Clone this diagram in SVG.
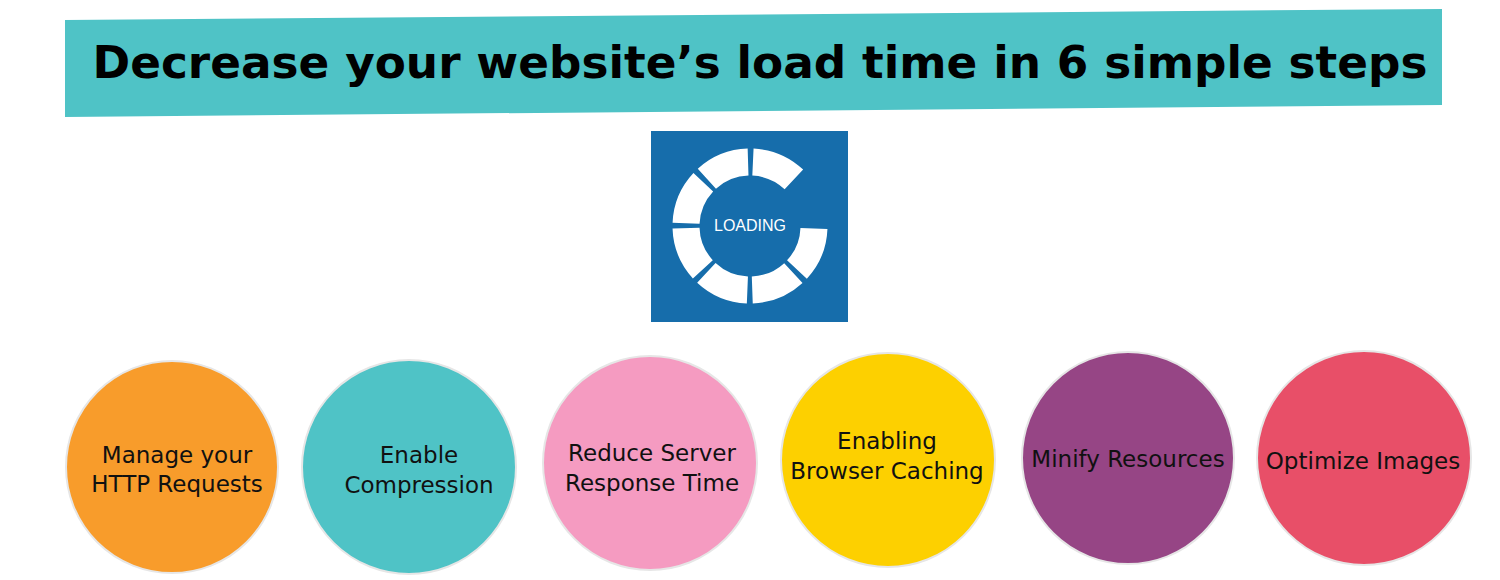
<svg xmlns="http://www.w3.org/2000/svg" width="1500" height="580" viewBox="0 0 1500 580">
<style>
.t{font-family:"DejaVu Sans",sans-serif;font-size:23px;fill:#111;text-anchor:middle}
.c{stroke:#e6e6e6;stroke-width:2}
</style>
<rect width="1500" height="580" fill="#fff"/>
<g id="title">
<polygon points="65,20 1442,9 1442,105 65,117" fill="#4fc3c6"/>
<text x="760" y="78" font-family="DejaVu Sans,sans-serif" font-weight="bold" font-size="45" fill="#000" text-anchor="middle" textLength="1335" lengthAdjust="spacingAndGlyphs">Decrease your website’s load time in 6 simple steps</text>
</g>
<g id="loading-icon">
<rect x="651" y="131" width="197" height="191" fill="#166dab"/>
<circle cx="750" cy="226" r="64" fill="none" stroke="#fff" stroke-width="27" stroke-dasharray="45.27 5 45.27 5 45.27 5 45.27 5 45.27 5 45.27 5 45.27 55.27" stroke-dashoffset="-2.5"/>
<text x="750" y="231" font-family="Liberation Sans,sans-serif" font-size="16" fill="#fff" text-anchor="middle">LOADING</text>
</g>
<g id="step1"><circle class="c" cx="172" cy="467" r="106" fill="#f89c2b"/><text class="t" x="177" y="463">Manage your</text><text class="t" x="177" y="492">HTTP Requests</text></g>
<g id="step2"><circle class="c" cx="409" cy="467" r="107" fill="#4fc3c6"/><text class="t" x="419" y="463">Enable</text><text class="t" x="419" y="493">Compression</text></g>
<g id="step3"><circle class="c" cx="650" cy="463" r="107" fill="#f59bc1"/><text class="t" x="652" y="461">Reduce Server</text><text class="t" x="652" y="491">Response Time</text></g>
<g id="step4"><circle class="c" cx="888" cy="460" r="107" fill="#fdd000"/><text class="t" x="887" y="449">Enabling</text><text class="t" x="887" y="479">Browser Caching</text></g>
<g id="step5"><circle class="c" cx="1128" cy="458" r="106" fill="#964585"/><text class="t" x="1128" y="467">Minify Resources</text></g>
<g id="step6"><circle class="c" cx="1364" cy="458" r="107" fill="#e84f68"/><text class="t" x="1363" y="469">Optimize Images</text></g>
<g id="connectors"/>
</svg>
